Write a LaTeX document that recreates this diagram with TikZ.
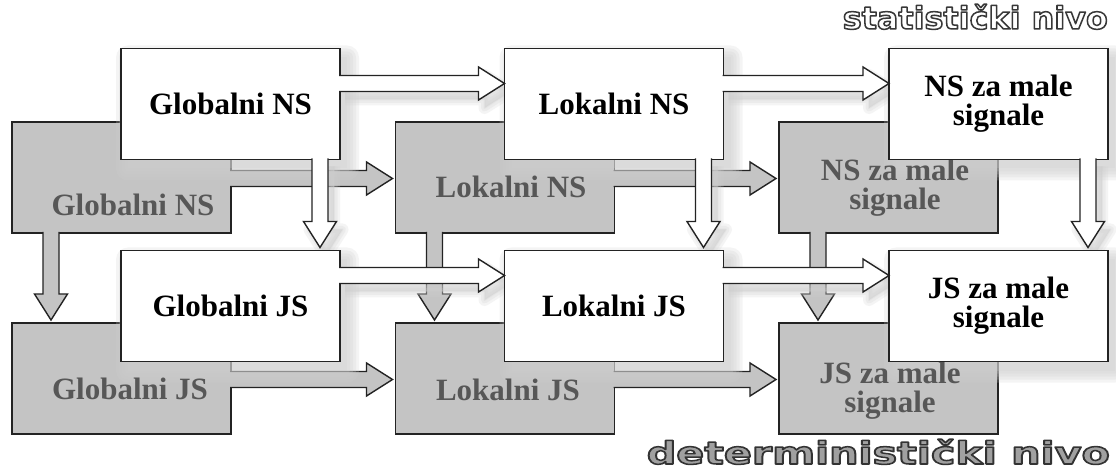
\documentclass[tikz,border=0pt]{standalone}
\usepackage{fontspec}
\setmainfont{Liberation Serif}
\newfontfamily\lblfont{DejaVu Sans}
\usetikzlibrary{calc}

\definecolor{boxgray}{HTML}{C4C4C4}
\definecolor{edgecol}{HTML}{232323}
\definecolor{graytext}{HTML}{575757}
\definecolor{shd}{HTML}{CFCFCF}
\definecolor{lblfill}{HTML}{A0A0A0}

% offset used when an arrow outline is redrawn as its shadow
\newcommand\arrdx{0}
\newcommand\arrdy{0}

% block arrow pointing right: #1 style, #2 start, #3 tip
\newcommand\harrowpath[3]{%
  \path[#1] ($(#2)+(\arrdx-1,\arrdy-8)$) -- ($(#3)+(\arrdx-26,\arrdy-8)$)
    -- ($(#3)+(\arrdx-26,\arrdy-16.5)$) -- ($(#3)+(\arrdx,\arrdy)$)
    -- ($(#3)+(\arrdx-26,\arrdy+16.5)$) -- ($(#3)+(\arrdx-26,\arrdy+8)$)
    -- ($(#2)+(\arrdx-1,\arrdy+8)$);}

% block arrow pointing down: #1 style, #2 start, #3 tip
\newcommand\varrowpath[3]{%
  \path[#1] ($(#2)+(\arrdx-8,\arrdy-1)$) -- ($(#3)+(\arrdx-8,\arrdy-26)$)
    -- ($(#3)+(\arrdx-16.5,\arrdy-26)$) -- ($(#3)+(\arrdx,\arrdy)$)
    -- ($(#3)+(\arrdx+16.5,\arrdy-26)$) -- ($(#3)+(\arrdx+8,\arrdy-26)$)
    -- ($(#2)+(\arrdx+8,\arrdy-1)$);}

% soft shadow of a block arrow
\newcommand\arrowshadow[3]{%
  \begingroup\renewcommand\arrdx{6}\renewcommand\arrdy{8}%
  \foreach \w in {12,7,2}{#1{draw=shd,fill=shd,line width=\w pt,line join=round,draw opacity=0.22,fill opacity=0.22}{#2}{#3}}%
  \endgroup}

% soft shadow of a box
\newcommand\boxshadow[1]{%
  \foreach \s in {12,9,6,3,0}{%
    \fill[shd, opacity=0.22, rounded corners=\s pt]
      ($(#1.north west)+(7-\s,9-\s)$) rectangle ($(#1.south east)+(7+\s,9+\s)$);}}

% hollow lettering: filled in the current colour, stroked with #1 (rgb) at width #2
\newcommand\outlinetext[3]{%
  \special{pdf:literal direct 2 Tr #2 w 1 j #1 RG}#3\special{pdf:literal direct 0 Tr}}

\tikzset{
  basebox/.style={draw=edgecol, line width=1.4pt, outer sep=0pt, inner sep=0pt,
    minimum width=219pt, minimum height=111pt},
  wbox/.style={basebox, fill=white, text=black, align=center,
    font=\bfseries\fontsize{31}{29}\selectfont},
  gbox/.style={basebox, fill=boxgray},
  gtxt/.style={text=graytext, align=center, inner sep=0pt,
    font=\bfseries\fontsize{31}{29}\selectfont},
  warrow/.style={fill=white, draw=edgecol, line width=1.4pt},
  garrow/.style={fill=boxgray, draw=edgecol, line width=1.4pt},
  lbl/.style={anchor=base east, inner sep=0pt, font=\lblfont\bfseries\fontsize{31}{31}\selectfont}
}

\begin{document}
\begin{tikzpicture}[x=1pt, y=-1pt]
\fill[white] (0,0) rectangle (1116,470);
\useasboundingbox (0,0) rectangle (1116,470);

% ---- deterministic level (grey, behind) ----
\node[gbox] (gnsG) at (121.5,177.5) {};
\node[gbox] (lnsG) at (505,177.5) {};
\node[gbox] (mnsG) at (888.5,177.5) {};
\node[gbox] (gjsG) at (121.5,378.5) {};
\node[gbox] (ljsG) at (505,378.5) {};
\node[gbox] (mjsG) at (888.5,378.5) {};

\coordinate (growNS) at (0,178.5);
\coordinate (growJS) at (0,379.5);

\coordinate (g1s) at (gnsG.east |- growNS);
\coordinate (g1t) at ($(lnsG.west |- growNS)+(-3,0)$);
\coordinate (g2s) at (lnsG.east |- growNS);
\coordinate (g2t) at ($(mnsG.west |- growNS)+(-3,0)$);
\coordinate (g3s) at (gjsG.east |- growJS);
\coordinate (g3t) at ($(ljsG.west |- growJS)+(-3,0)$);
\coordinate (g4s) at (ljsG.east |- growJS);
\coordinate (g4t) at ($(mjsG.west |- growJS)+(-3,0)$);
\coordinate (g5s) at ($(gnsG.south west)+(39,0)$);
\coordinate (g5t) at ($(gjsG.north west)+(39,-3)$);
\coordinate (g6s) at ($(lnsG.south west)+(39,0)$);
\coordinate (g6t) at ($(ljsG.north west)+(39,-3)$);
\coordinate (g7s) at ($(mnsG.south west)+(39,0)$);
\coordinate (g7t) at ($(mjsG.north west)+(39,-3)$);

\harrowpath{garrow}{g1s}{g1t}
\harrowpath{garrow}{g2s}{g2t}
\harrowpath{garrow}{g3s}{g3t}
\harrowpath{garrow}{g4s}{g4t}
\varrowpath{garrow}{g5s}{g5t}
\varrowpath{garrow}{g6s}{g6t}
\varrowpath{garrow}{g7s}{g7t}

% ---- statistical level (white, in front) ----
\coordinate (rowNS) at (0,83.5);
\coordinate (rowJS) at (0,275.5);

% outlines of the front boxes, used for their shadows
\path (230.5,104) node[basebox, draw=none] (gnsS) {}
      (614,104) node[basebox, draw=none] (lnsS) {}
      (998.5,104) node[basebox, draw=none] (mnsS) {}
      (230.5,306) node[basebox, draw=none] (gjsS) {}
      (614,306) node[basebox, draw=none] (ljsS) {}
      (998.5,306) node[basebox, draw=none] (mjsS) {};
\boxshadow{gnsS}\boxshadow{lnsS}\boxshadow{mnsS}
\boxshadow{gjsS}\boxshadow{ljsS}\boxshadow{mjsS}

\coordinate (w1s) at (gnsS.east |- rowNS);
\coordinate (w1t) at (lnsS.west |- rowNS);
\coordinate (w2s) at (lnsS.east |- rowNS);
\coordinate (w2t) at (mnsS.west |- rowNS);
\coordinate (w3s) at (gjsS.east |- rowJS);
\coordinate (w3t) at (ljsS.west |- rowJS);
\coordinate (w4s) at (ljsS.east |- rowJS);
\coordinate (w4t) at (mjsS.west |- rowJS);
\coordinate (w5s) at ($(gnsS.south east)+(-20,0)$);
\coordinate (w5t) at ($(gjsS.north east)+(-20,-3)$);
\coordinate (w6s) at ($(lnsS.south east)+(-20,0)$);
\coordinate (w6t) at ($(ljsS.north east)+(-20,-3)$);
\coordinate (w7s) at ($(mnsS.south east)+(-20,0)$);
\coordinate (w7t) at ($(mjsS.north east)+(-20,-3)$);

\arrowshadow{\harrowpath}{w1s}{w1t}
\arrowshadow{\harrowpath}{w2s}{w2t}
\arrowshadow{\harrowpath}{w3s}{w3t}
\arrowshadow{\harrowpath}{w4s}{w4t}
\arrowshadow{\varrowpath}{w5s}{w5t}
\arrowshadow{\varrowpath}{w6s}{w6t}
\arrowshadow{\varrowpath}{w7s}{w7t}

% labels of the grey boxes
\node[gtxt] (gnsGt) at (133,205) {Globalni NS};
\node[gtxt] (lnsGt) at (511,187) {Lokalni NS};
\node[gtxt] (mnsGt) at (895,188) {NS za male\\signale};
\node[gtxt] (gjsGt) at (130,389) {Globalni JS};
\node[gtxt] (ljsGt) at (508,390) {Lokalni JS};
\node[gtxt] (mjsGt) at (890,391) {JS za male\\signale};

% front boxes
\node[wbox] (gnsW) at (gnsS) {Globalni NS};
\node[wbox] (lnsW) at (lnsS) {Lokalni NS};
\node[wbox] (mnsW) at (mnsS) {NS za male\\signale};
\node[wbox] (gjsW) at (gjsS) {Globalni JS};
\node[wbox] (ljsW) at (ljsS) {Lokalni JS};
\node[wbox] (mjsW) at (mjsS) {JS za male\\signale};

\harrowpath{warrow}{w1s}{w1t}
\harrowpath{warrow}{w2s}{w2t}
\harrowpath{warrow}{w3s}{w3t}
\harrowpath{warrow}{w4s}{w4t}
\varrowpath{warrow}{w5s}{w5t}
\varrowpath{warrow}{w6s}{w6t}
\varrowpath{warrow}{w7s}{w7t}

% level captions
\node[lbl, text=white] (statlbl) at (1108,29)
  {\resizebox{265pt}{\height}{\outlinetext{0.22 0.22 0.22}{1.5}{statistički nivo}}};
\node[lbl, text=lblfill] (detlbl) at (1110,464)
  {\resizebox{463pt}{\height}{\outlinetext{0.2 0.2 0.2}{1.5}{deterministički nivo}}};
\end{tikzpicture}
\end{document}
